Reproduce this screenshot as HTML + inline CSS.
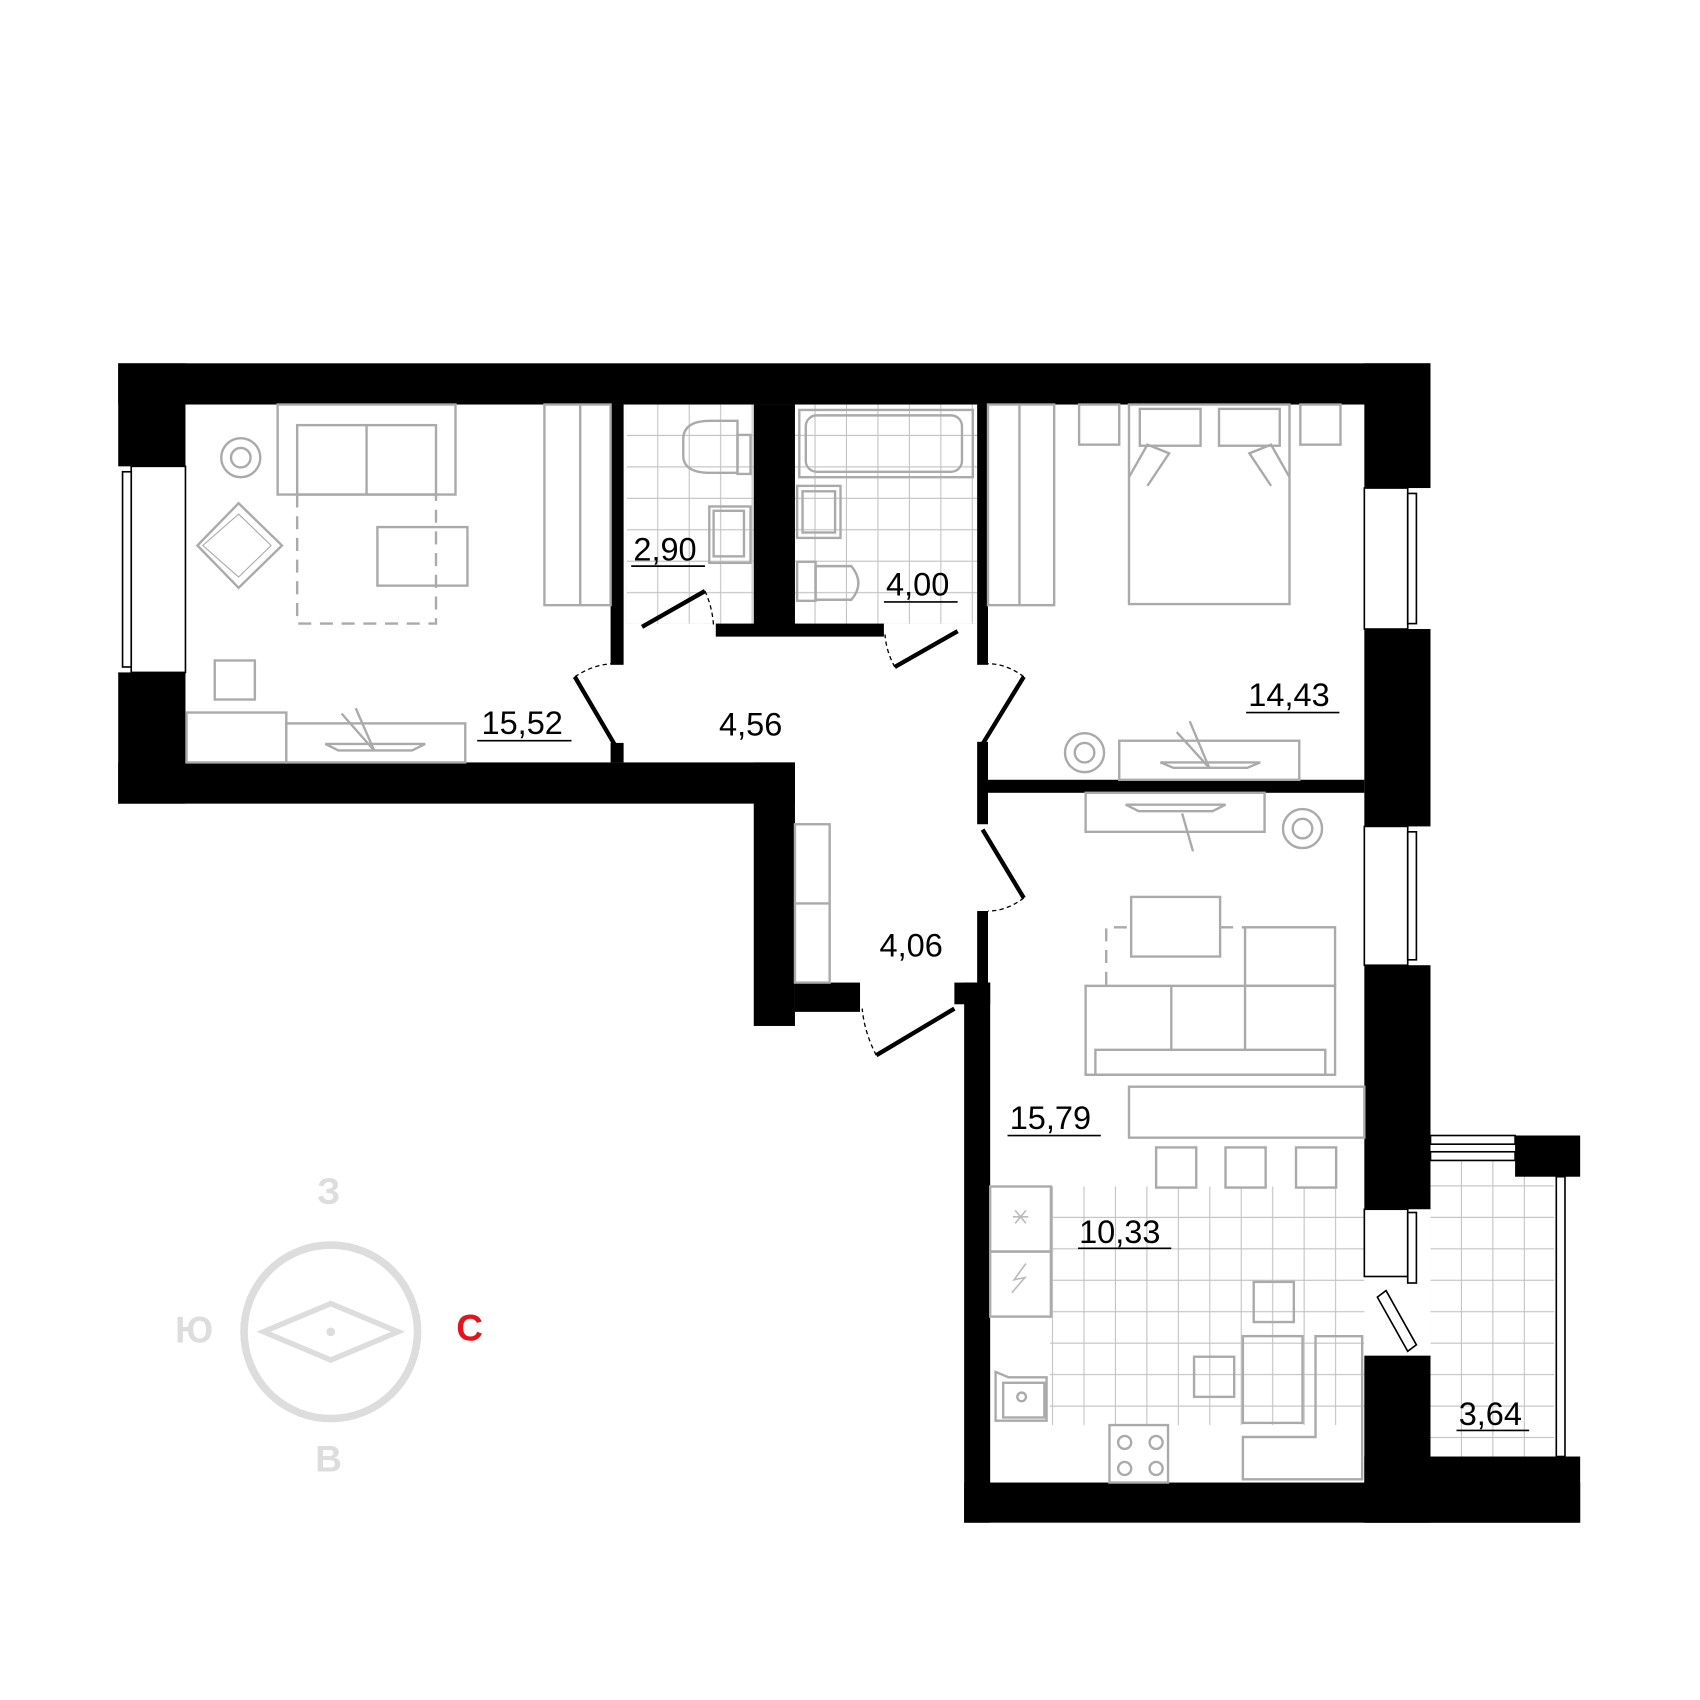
<!DOCTYPE html>
<html><head><meta charset="utf-8"><style>
html,body{margin:0;padding:0;background:#fff}
svg{display:block}
text{font-family:"Liberation Sans","DejaVu Sans",sans-serif}
</style></head><body>
<svg width="1700" height="1700" viewBox="0 0 1567.5 1567.5" xmlns="http://www.w3.org/2000/svg">
<defs>
<pattern id="t" width="29" height="29" patternUnits="userSpaceOnUse" x="578" y="373"><path d="M29 0V29H0" fill="none" stroke="#c2c2c2" stroke-width="2"/></pattern>
<pattern id="t2" width="29" height="29" patternUnits="userSpaceOnUse" x="913" y="1094"><path d="M29 0V29H0" fill="none" stroke="#c2c2c2" stroke-width="2"/></pattern>
</defs>
<rect x="578" y="373" width="117" height="202" fill="url(#t)"/>
<rect x="733" y="373" width="168" height="202" fill="url(#t)"/>
<rect x="968" y="1094" width="290" height="220" fill="url(#t2)"/>
<rect x="1319" y="1070" width="114" height="273" fill="url(#t2)"/>
<g fill="#000">
<rect x="109" y="335" width="1210" height="38"/>
<rect x="109" y="335" width="62" height="95"/>
<rect x="109" y="620" width="62" height="121"/>
<rect x="109" y="703" width="624" height="38"/>
<rect x="695" y="703" width="38" height="243"/>
<rect x="733" y="906" width="60" height="27"/>
<rect x="1258" y="335" width="61" height="115"/>
<rect x="1258" y="580" width="61" height="182"/>
<rect x="1258" y="890" width="61" height="225"/>
<rect x="1258" y="1250" width="61" height="154"/>
<rect x="1258" y="1343" width="199" height="61"/>
<rect x="889" y="1367" width="568" height="37"/>
<rect x="889" y="906" width="24" height="498"/>
<rect x="880" y="906" width="33" height="20"/>
<rect x="1397" y="1047" width="60" height="38"/>
<rect x="563" y="373" width="12" height="240"/>
<rect x="563" y="685" width="12" height="18"/>
<rect x="695" y="373" width="38" height="212"/>
<rect x="660" y="575" width="155" height="12"/>
<rect x="901" y="373" width="10" height="240"/>
<rect x="901" y="684" width="10" height="76"/>
<rect x="901" y="840" width="10" height="70"/>
<rect x="903" y="719" width="355" height="12"/>
</g>
<g fill="#fff" stroke="#000" stroke-width="1.5">
<rect x="121" y="430" width="50" height="190"/>
<rect x="113" y="435" width="8" height="180"/>
<rect x="1258" y="450" width="40" height="130"/>
<rect x="1298" y="455" width="8" height="120"/>
<rect x="1258" y="762" width="40" height="128"/>
<rect x="1298" y="767" width="8" height="118"/>
<rect x="1258" y="1115" width="40" height="62"/>
<rect x="1298" y="1118" width="8" height="65"/>
<rect x="1435" y="1085" width="8" height="258"/>
<rect x="1319" y="1047" width="78" height="8"/>
<rect x="1319" y="1062" width="78" height="8"/>
<path d="M1270 1196 L1278 1190 L1306 1240 L1298 1246 Z"/>
</g>
<g stroke="#000" stroke-width="4" fill="none">
<line x1="530" y1="624" x2="567" y2="687"/>
<line x1="592" y1="578" x2="650" y2="545"/>
<line x1="825" y1="615" x2="883" y2="582"/>
<line x1="944" y1="624" x2="906" y2="686"/>
<line x1="906" y1="765" x2="944" y2="828"/>
<line x1="808" y1="973" x2="880" y2="930"/>
</g>
<g stroke="#000" stroke-width="1.2" fill="none" stroke-dasharray="4 3">
<path d="M530 624 Q548 612 567 612"/>
<path d="M650 545 Q657 560 658 578"/>
<path d="M825 615 Q817 600 816 585"/>
<path d="M944 624 Q928 612 911 612"/>
<path d="M944 828 Q928 840 911 840"/>
<path d="M808 973 Q797 952 795 930"/>
</g>
<g fill="none" stroke="#aaa" stroke-width="2.2">
<rect x="256" y="373" width="164" height="83"/>
<rect x="274" y="392" width="128" height="64"/><line x1="338" y1="392" x2="338" y2="456"/>
<path d="M274 456 V575 H402 V456" stroke-dasharray="12 8"/>
<rect x="348" y="486" width="83" height="54"/>
<circle cx="222" cy="422" r="18"/><circle cx="222" cy="422" r="9"/>
<path d="M220 464 L260 503 L220 542 L182 503 Z"/><path d="M220 474 L250 503 L220 532 L187 503 Z" stroke-width="1"/>
<rect x="198" y="609" width="37" height="36"/>
<rect x="172" y="657" width="92" height="46"/><rect x="264" y="667" width="165" height="36"/>
<path d="M300 686 H392 L380 692 H312 Z"/><path d="M315 658 L345 692 M328 653 L345 692"/>
<rect x="502" y="373" width="61" height="185"/><line x1="535" y1="373" x2="535" y2="558"/>
<rect x="911" y="373" width="61" height="185"/><line x1="940" y1="373" x2="940" y2="558"/>
<rect x="995" y="373" width="37" height="37"/><rect x="1199" y="373" width="37" height="37"/>
<rect x="1041" y="373" width="148" height="184"/>
<rect x="1051" y="377" width="56" height="34"/><rect x="1124" y="377" width="56" height="34"/>
<path d="M1041 440 L1058 410 L1078 418 L1058 448 M1189 440 L1172 410 L1152 418 L1172 448"/>
<circle cx="1000" cy="694" r="18"/><circle cx="1000" cy="694" r="9"/>
<rect x="1032" y="683" width="166" height="36"/><path d="M1070 703 H1162 L1150 708 H1082 Z"/><path d="M1097 665 L1115 708 M1085 675 L1115 708"/>
<rect x="1001" y="731" width="165" height="36"/><path d="M1038 742 H1130 L1118 748 H1050 Z"/><path d="M1090 750 L1100 785"/>
<circle cx="1201" cy="764" r="18"/><circle cx="1201" cy="764" r="9"/>
<rect x="1043" y="827" width="82" height="55"/>
<path d="M1020 908 V855 H1043 M1125 855 H1148" stroke-dasharray="12 8"/>
<rect x="1001" y="909" width="230" height="82"/><rect x="1148" y="855" width="83" height="54"/>
<rect x="1010" y="968" width="212" height="23"/><line x1="1080" y1="909" x2="1080" y2="968"/><line x1="1148" y1="909" x2="1148" y2="968"/>
<rect x="1041" y="1002" width="217" height="47"/>
<rect x="1066" y="1058" width="37" height="37"/><rect x="1130" y="1058" width="37" height="37"/><rect x="1195" y="1058" width="37" height="37"/>
<rect x="913" y="1094" width="56" height="60"/><rect x="913" y="1154" width="56" height="60"/>
<path d="M930 1270 H965 V1310 H918 V1265 Z"/><rect x="925" y="1275" width="38" height="32"/><circle cx="942" cy="1288" r="4"/>
<rect x="1023" y="1314" width="54" height="53"/>
<circle cx="1037" cy="1330" r="6"/><circle cx="1066" cy="1330" r="6"/><circle cx="1037" cy="1354" r="6"/><circle cx="1066" cy="1354" r="6"/>
<rect x="1156" y="1182" width="37" height="37"/><rect x="1101" y="1251" width="37" height="37"/>
<rect x="1146" y="1232" width="55" height="80"/>
<path d="M1213 1232 H1256 V1364 H1146 V1325 H1213 Z"/>
<path d="M630 405 Q630 388 655 388 H680 V436 H655 Q630 436 630 420 Z"/><rect x="680" y="401" width="12" height="36"/>
<rect x="654" y="467" width="38" height="52"/><rect x="658" y="471" width="28" height="42"/>
<rect x="737" y="378" width="160" height="62"/><rect x="743" y="383" width="144" height="52" rx="10"/>
<rect x="735" y="448" width="40" height="48"/><rect x="740" y="453" width="30" height="38"/>
<path d="M752 522 H785 Q798 538 785 553 H752 Z"/><rect x="735" y="518" width="17" height="36"/>
<rect x="733" y="760" width="32" height="146"/><line x1="733" y1="833" x2="765" y2="833"/>
</g>
<path d="M934 1122 L948 1122 M936 1116 L946 1128 M946 1116 L936 1128 M946 1165 L935 1180 L945 1178 L933 1192" stroke="#bbb" stroke-width="1.5" fill="none"/>
<g font-size="30" fill="#000">
<text x="444" y="677">15,52</text><line x1="440" y1="683" x2="527" y2="683" stroke="#000" stroke-width="1.5"/>
<text x="584" y="517">2,90</text><line x1="582" y1="522" x2="650" y2="522" stroke="#000" stroke-width="1.5"/>
<text x="817" y="549">4,00</text><line x1="815" y1="555" x2="883" y2="555" stroke="#000" stroke-width="1.5"/>
<text x="663" y="678">4,56</text>
<text x="1151" y="651">14,43</text><line x1="1149" y1="657" x2="1235" y2="657" stroke="#000" stroke-width="1.5"/>
<text x="811" y="882">4,06</text>
<text x="931" y="1041">15,79</text><line x1="929" y1="1047" x2="1015" y2="1047" stroke="#000" stroke-width="1.5"/>
<text x="995" y="1146">10,33</text><line x1="994" y1="1151" x2="1080" y2="1151" stroke="#000" stroke-width="1.5"/>
<text x="1345" y="1314">3,64</text><line x1="1343" y1="1319" x2="1410" y2="1319" stroke="#000" stroke-width="1.5"/>
</g>
<circle cx="305" cy="1228" r="80" fill="none" stroke="#ddd" stroke-width="7"/>
<path d="M243 1228 L305 1202 L367 1228 L305 1254 Z" fill="none" stroke="#ddd" stroke-width="5"/>
<circle cx="305" cy="1228" r="4" fill="#ddd"/>
<g font-size="34" font-weight="bold" text-anchor="middle">
<text x="303" y="1110" fill="#ddd">З</text>
<text x="179" y="1238" fill="#ddd">Ю</text>
<text x="433" y="1236" fill="#e3141b">С</text>
<text x="303" y="1357" fill="#ddd">В</text>
</g>
</svg>
</body></html>
